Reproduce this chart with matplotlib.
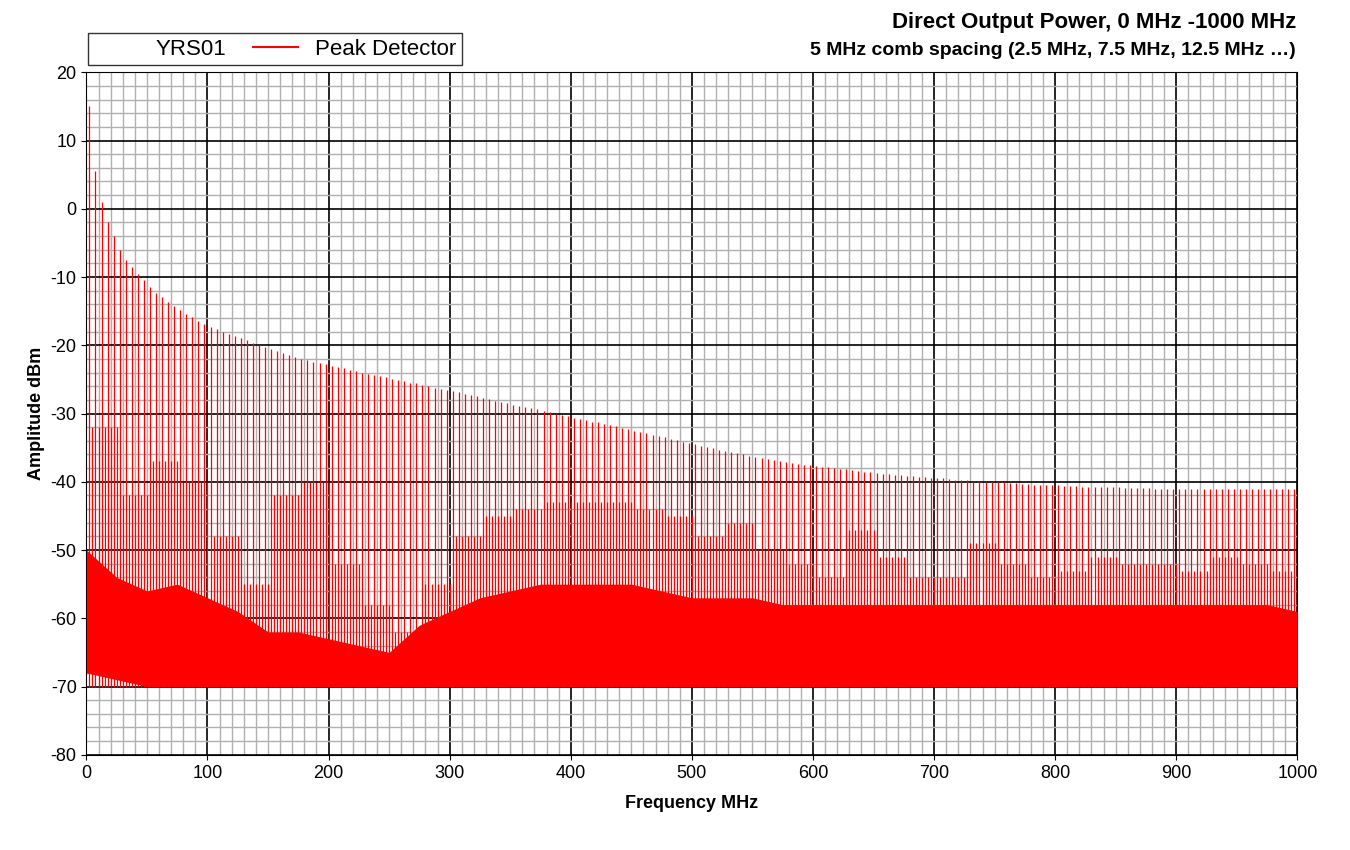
import numpy as np
import matplotlib.pyplot as plt
from matplotlib.ticker import MultipleLocator
from matplotlib.lines import Line2D

plt.rcParams['font.family'] = ['Liberation Sans', 'DejaVu Sans']
plt.rcParams['axes.unicode_minus'] = False

# comb lines at 2.5, 7.5, 12.5 ... MHz
comb_freq = np.arange(2.5, 1000, 5.0)
comb_peak = [
    15, 5.5, 1, -2, -4, -6, -7.5, -8.5, -9.5, -10.5,
    -11.5, -12.3, -13, -13.7, -14.3, -14.9, -15.4, -15.9, -16.4, -16.9,
    -17.3, -17.6, -18, -18.3, -18.7, -19, -19.3, -19.6, -19.9, -20.2,
    -20.5, -20.8, -21.1, -21.4, -21.7, -22, -22.2, -22.4, -22.6, -22.8,
    -23, -23.2, -23.4, -23.6, -23.8, -24, -24.2, -24.4, -24.5, -24.7,
    -24.9, -25.1, -25.3, -25.5, -25.6, -25.8, -26, -26.2, -26.4, -26.5,
    -26.7, -26.9, -27.1, -27.3, -27.5, -27.7, -27.9, -28.1, -28.3, -28.5,
    -28.7, -28.9, -29, -29.2, -29.4, -29.6, -29.8, -30, -30.2, -30.4,
    -30.6, -30.8, -31, -31.2, -31.3, -31.5, -31.7, -31.9, -32.1, -32.3,
    -32.5, -32.7, -32.9, -33.1, -33.3, -33.5, -33.7, -33.9, -34.1, -34.3,
    -34.5, -34.7, -34.9, -35.1, -35.3, -35.5, -35.6, -35.8, -36, -36.2,
    -36.4, -36.5, -36.7, -36.8, -37, -37.1, -37.2, -37.4, -37.5, -37.6,
    -37.7, -37.8, -37.9, -38, -38.1, -38.2, -38.3, -38.4, -38.5, -38.6,
    -38.7, -38.8, -38.9, -39, -39, -39.1, -39.2, -39.3, -39.3, -39.4,
    -39.5, -39.5, -39.6, -39.7, -39.7, -39.8, -39.9, -39.9, -40, -40,
    -40.1, -40.1, -40.2, -40.2, -40.3, -40.3, -40.4, -40.4, -40.5, -40.5,
    -40.5, -40.6, -40.6, -40.6, -40.7, -40.7, -40.7, -40.8, -40.8, -40.8,
    -40.8, -40.9, -40.9, -40.9, -40.9, -40.9, -41, -41, -41, -41,
    -41, -41, -41, -41, -41, -41, -41, -41, -41, -41,
    -41, -41, -41, -41, -41, -41, -41, -41, -41, -41,
]

# secondary spike level per 25 MHz band (40 bands)
mid_peak = [-32, -42, -37, -40, -48, -55, -42, -40, -52, -58,
            -62, -55, -48, -45, -44, -43, -43, -43, -44, -45,
            -48, -46, -50, -52, -54, -47, -51, -54, -54, -49,
            -52, -54, -53, -51, -52, -52, -53, -51, -52, -53]
# dense noise band, every 25 MHz (0..1000)
band_freq = np.arange(0, 1001, 25)
floor_top = [-50, -54, -56, -55, -57, -59, -62, -62, -63, -64,
             -65, -61, -59, -57, -56, -55, -55, -55, -55, -56,
             -57, -57, -57, -58, -58, -58, -58, -58, -58, -58,
             -58, -58, -58, -58, -58, -58, -58, -58, -58, -58, -59]
floor_bot = [-68, -69, -70, -70, -70, -70, -70, -70, -70, -70,
             -70, -70, -70, -70, -70, -70, -70, -70, -70, -70,
             -70, -70, -70, -70, -70, -70, -70, -70, -70, -70,
             -70, -70, -70, -70, -70, -70, -70, -70, -70, -70, -70]

fig = plt.figure(figsize=(13.5, 8.5), dpi=100)
ax = fig.add_axes([0.064, 0.112, 0.897, 0.803])
red = '#ff0000'

ax.fill_between(band_freq, floor_bot, floor_top, color=red, lw=0, zorder=3)
mid_at = np.repeat(mid_peak, 5)
ax.vlines(comb_freq + 2.5, -70, mid_at, color=red, lw=0.9, zorder=3)
ax.vlines(comb_freq, -70, comb_peak, color=red, lw=0.9, zorder=3)

ax.set_xlim(0, 1000)
ax.set_ylim(-80, 20)
ax.xaxis.set_major_locator(MultipleLocator(100))
ax.xaxis.set_minor_locator(MultipleLocator(10))
ax.yaxis.set_major_locator(MultipleLocator(10))
ax.yaxis.set_minor_locator(MultipleLocator(2))
ax.grid(which='minor', color='#b0b0b0', lw=1.0, zorder=1)
ax.grid(which='major', color='black', lw=1.2, zorder=2)
ax.tick_params(which='minor', length=0)
ax.tick_params(labelsize=13)
for s in ax.spines.values():
    s.set_color('black')

ax.set_xlabel('Frequency MHz', fontsize=13, fontweight='bold', labelpad=10)
ax.set_ylabel('Amplitude dBm', fontsize=13, fontweight='bold')

fig.text(0.96, 0.974, 'Direct Output Power, 0 MHz -1000 MHz', ha='right',
         va='center', fontsize=16, fontweight='bold')
fig.text(0.96, 0.941, '5 MHz comb spacing (2.5 MHz, 7.5 MHz, 12.5 MHz \u2026)',
         ha='right', va='center', fontsize=14, fontweight='bold')

handles = [Line2D([], [], color='none'), Line2D([], [], color=red, lw=1.5)]
leg = fig.legend(handles, ['YRS01', 'Peak Detector'], ncol=2,
                 loc='lower left', bbox_to_anchor=(0.057, 0.91),
                 fontsize=16, frameon=True, fancybox=False, edgecolor='black',
                 handlelength=2.0, columnspacing=1.2, borderpad=0.25)
leg.get_frame().set_linewidth(1.0)

fig.savefig('out.png', dpi=100)
